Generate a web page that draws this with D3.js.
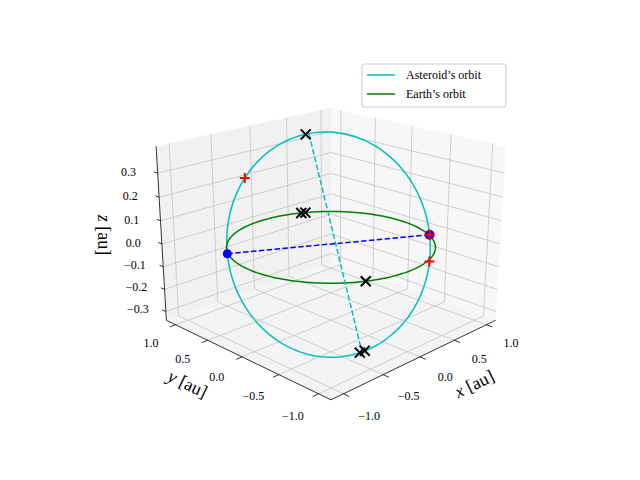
<!DOCTYPE html>
<html><head><meta charset="utf-8">
<script src="https://cdn.jsdelivr.net/npm/d3@7"></script>
<style>body{margin:0;background:#fff}text{font-family:"Liberation Serif","DejaVu Serif",serif}</style>
</head><body><svg id="c" width="640" height="480"></svg>
<script>
// axis ticks
var xTicks = [-1.0, -0.5, 0.0, 0.5, 1.0];
var yTicks = [-1.0, -0.5, 0.0, 0.5, 1.0];
var zTicks = [-0.3, -0.2, -0.1, 0.0, 0.1, 0.2, 0.3];
var xLim = [-1.15, 1.15], yLim = [-1.15, 1.15], zLim = [-0.34, 0.41];

// orbits: node direction and conjugate direction of asteroid orbit
var nodeDir = [0.877, -0.497, 0];
var asterQ = [0.205, 0.36, 0.425];
var earthR = 1.0;

// markers
var blackX = [[0.081, 0.425, 0.42], [0.45, 0.89, 0], [0.49, 0.87, 0], [-0.46, -0.89, 0],
              [-0.049, -0.441, -0.418], [-0.003, -0.463, -0.413]];
var redPlus = [[-0.540, 0.612, 0.273], [0.877, -0.497, 0], [0.801, -0.569, -0.103]];
var nodes = [[-0.877, 0.497, 0], [0.877, -0.497, 0]];
var apsides = [[0.12, 0.42, 0.42], [-0.03, -0.45, -0.415]];

var svg = d3.select("#c");
var elev = 20 * Math.PI / 180, azim = -135 * Math.PI / 180;
var kz = 2.36, S = 104, D = 10, cx = 331, cy = 244;
var r = [-Math.sin(azim), Math.cos(azim), 0],
  u = [-Math.sin(elev) * Math.cos(azim), -Math.sin(elev) * Math.sin(azim), Math.cos(elev)],
  dv = [Math.cos(elev) * Math.cos(azim), Math.cos(elev) * Math.sin(azim), Math.sin(elev)];

function proj(p) {
  var w = [p[0], p[1], p[2] * kz];
  var dot = function (a) { return a[0] * w[0] + a[1] * w[1] + a[2] * w[2]; };
  var f = D / (D - dot(dv));
  return [cx + S * dot(r) * f, cy - S * dot(u) * f];
}
var line = d3.line().x(function (d) { return proj(d)[0]; }).y(function (d) { return proj(d)[1]; });

var X0 = xLim[0], X1 = xLim[1], Y0 = yLim[0], Y1 = yLim[1], Z0 = zLim[0], Z1 = zLim[1];
// panes
var panes = [
  {pts: [[X1, Y0, Z0], [X1, Y1, Z0], [X1, Y1, Z1], [X1, Y0, Z1]], c: "#f2f2f2"},
  {pts: [[X0, Y1, Z0], [X1, Y1, Z0], [X1, Y1, Z1], [X0, Y1, Z1]], c: "#e8e8e8"},
  {pts: [[X0, Y0, Z0], [X1, Y0, Z0], [X1, Y1, Z0], [X0, Y1, Z0]], c: "#ededed"}
];
svg.selectAll("path.pane").data(panes).enter().append("path")
  .attr("d", function (d) { return line(d.pts) + "Z"; }).attr("fill", function (d) { return d.c; })
  .attr("fill-opacity", 0.6).attr("stroke", "none");

var grid = [];
xTicks.forEach(function (t) { grid.push([[t, Y0, Z0], [t, Y1, Z0], [t, Y1, Z1]]); });
yTicks.forEach(function (t) { grid.push([[X0, t, Z0], [X1, t, Z0], [X1, t, Z1]]); });
zTicks.forEach(function (t) { grid.push([[X0, Y1, t], [X1, Y1, t], [X1, Y0, t]]); });
svg.selectAll("path.grid").data(grid).enter().append("path")
  .attr("d", line).attr("fill", "none").attr("stroke", "#c4c4c4").attr("stroke-width", 0.8);

// axis lines
var axes = [[[X0, Y0, Z0], [X1, Y0, Z0]], [[X0, Y0, Z0], [X0, Y1, Z0]], [[X0, Y1, Z0], [X0, Y1, Z1]]];
svg.selectAll("path.ax").data(axes).enter().append("path")
  .attr("d", line).attr("fill", "none").attr("stroke", "#000").attr("stroke-width", 0.8);

function fmt(v) { return (v < 0 ? "\u2212" : "") + Math.abs(v).toFixed(1); }
function ticks(vals, f, tickOff, labOff, dy) {
  vals.forEach(function (t) {
    var a = f(t), b = f(t).map(function (v, i) { return v + tickOff[i]; }),
      l = f(t).map(function (v, i) { return v + labOff[i]; });
    svg.append("path").attr("d", line([a, b])).attr("stroke", "#000").attr("stroke-width", 0.8);
    var p = proj(l);
    svg.append("text").attr("x", p[0]).attr("y", p[1] + 4 + dy).attr("text-anchor", "middle")
      .attr("font-size", 12).text(fmt(t));
  });
}
ticks(xTicks, function (t) { return [t, Y0, Z0]; }, [0, -0.07, 0], [0, -0.3, -0.04], 0);
ticks(yTicks, function (t) { return [X0, t, Z0]; }, [-0.07, 0, 0], [-0.3, 0, -0.04], 0);
ticks(zTicks, function (t) { return [X0, Y1, t]; }, [0, 0.06, 0], [-0.12, 0.3, 0], 3);

function axLabel(pt, rot, parts) {
  var p = proj(pt);
  var t = svg.append("text").attr("transform", "translate(" + p + ") rotate(" + rot + ")")
    .attr("text-anchor", "middle").attr("font-size", 18);
  t.append("tspan").attr("font-style", "italic").text(parts[0]);
  t.append("tspan").text(parts[1]);
}
axLabel([0.05, Y0 - 0.62, Z0 - 0.05], -26, ["x", " [au]"]);
axLabel([X0 - 0.62, 0.05, Z0 - 0.05], 26, ["y", " [au]"]);
svg.append("text").attr("transform", "translate(98,235) rotate(90)").attr("text-anchor", "middle")
  .attr("font-size", 18).html('<tspan font-style="italic">z</tspan> [au]');

// orbits
var ts = d3.range(0, 361, 2).map(function (a) { return a * Math.PI / 180; });
var aster = ts.map(function (t) {
  return [0, 1, 2].map(function (i) { return nodeDir[i] * Math.cos(t) + asterQ[i] * Math.sin(t); });
});
var earth = ts.map(function (t) { return [earthR * Math.cos(t), earthR * Math.sin(t), 0]; });
svg.append("path").attr("d", line(aster)).attr("fill", "none").attr("stroke", "#00bfbf").attr("stroke-width", 1.5);
svg.append("path").attr("d", line(earth)).attr("fill", "none").attr("stroke", "#008000").attr("stroke-width", 1.5);
svg.append("path").attr("d", line(apsides)).attr("fill", "none").attr("stroke", "#00bfbf")
  .attr("stroke-width", 1.5).attr("stroke-dasharray", "5.5,2.4");
svg.append("path").attr("d", line(nodes)).attr("fill", "none").attr("stroke", "#0000ff")
  .attr("stroke-width", 1.5).attr("stroke-dasharray", "5.5,2.4");

// markers
var rp = proj(nodes[1]);
svg.append("circle").attr("cx", rp[0]).attr("cy", rp[1]).attr("r", 5).attr("fill", "#ff0000");
nodes.forEach(function (n) {
  var p = proj(n);
  svg.append("circle").attr("cx", p[0]).attr("cy", p[1]).attr("r", 4.5).attr("fill", "#0000ff");
});
redPlus.forEach(function (n) {
  var p = proj(n);
  svg.append("path").attr("d", "M" + (p[0] - 5) + "," + p[1] + "h10M" + p[0] + "," + (p[1] - 5) + "v10")
    .attr("stroke", "#ff0000").attr("stroke-width", 2);
});
blackX.forEach(function (n) {
  var p = proj(n);
  svg.append("path").attr("d", "M" + (p[0] - 5) + "," + (p[1] - 5) + "l10,10M" + (p[0] - 5) + "," + (p[1] + 5) + "l10,-10")
    .attr("stroke", "#000").attr("stroke-width", 2);
});

// legend
var lg = svg.append("g").attr("transform", "translate(362,64)");
lg.append("rect").attr("width", 144).attr("height", 43).attr("rx", 2).attr("fill", "#fff")
  .attr("fill-opacity", 0.8).attr("stroke", "#ccc");
[["Asteroid\u2019s orbit", "#00bfbf"], ["Earth\u2019s orbit", "#008000"]].forEach(function (e, i) {
  lg.append("line").attr("x1", 5).attr("x2", 33).attr("y1", 11 + i * 19).attr("y2", 11 + i * 19)
    .attr("stroke", e[1]).attr("stroke-width", 1.5);
  lg.append("text").attr("x", 44).attr("y", 15 + i * 19).attr("font-size", 12).text(e[0]);
});
</script></body></html>
